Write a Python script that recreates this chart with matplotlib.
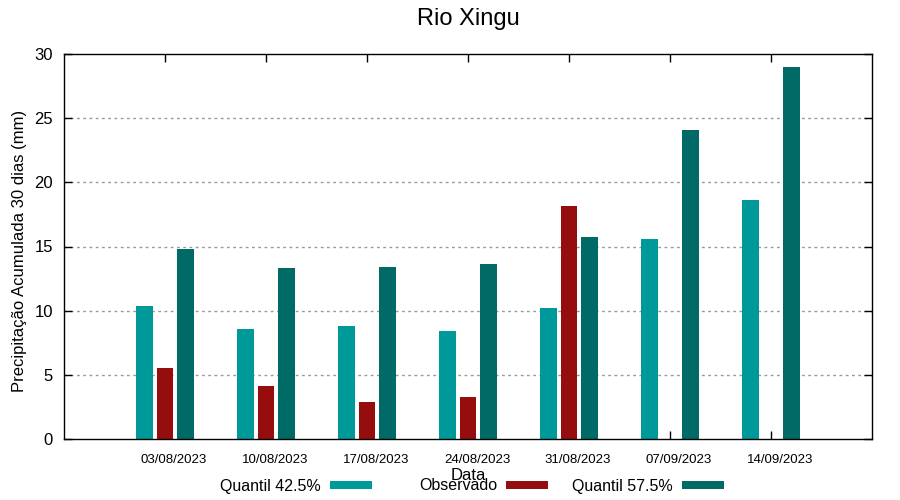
import matplotlib
matplotlib.use("Agg")
import matplotlib.pyplot as plt
import numpy as np

plt.rcParams['font.family'] = ['Liberation Sans', 'DejaVu Sans']

# dados
datas = ["03/08/2023", "10/08/2023", "17/08/2023", "24/08/2023",
         "31/08/2023", "07/09/2023", "14/09/2023"]
quantil_425 = [10.33, 8.55, 8.78, 8.39, 10.18, 15.62, 18.65]
observado = [5.52, 4.12, 2.87, 3.26, 18.18, np.nan, np.nan]
quantil_575 = [14.84, 13.29, 13.44, 13.60, 15.77, 24.09, 28.98]

cor_q425 = "#009999"
cor_obs = "#960d0d"
cor_q575 = "#006a66"

fig = plt.figure(figsize=(9, 5), dpi=100)
ax = fig.add_axes([64 / 900, 61 / 500, 808 / 900, 385 / 500])

x = np.arange(len(datas))
larg = 0.165
b1 = ax.bar(x - 0.205, quantil_425, larg, color=cor_q425, label="Quantil 42.5%", zorder=3)
b2 = ax.bar(x, observado, larg, color=cor_obs, label="Observado", zorder=3)
b3 = ax.bar(x + 0.205, quantil_575, larg, color=cor_q575, label="Quantil 57.5%", zorder=3)

ax.set_xlim(-1, 7)
ax.set_ylim(0, 30)
ax.set_yticks(np.arange(0, 31, 5))

# marcas no centro do grupo, rótulos um pouco à direita (como no gnuplot)
ax.set_xticks(x)
ax.set_xticklabels([])
ax.set_xticks(x + 0.09, minor=True)
ax.set_xticklabels(datas, minor=True, fontsize=9.5)

ax.tick_params(axis='y', direction='in', length=6, width=1, labelsize=12,
               pad=8, right=True)
ax.tick_params(axis='x', which='major', direction='in', length=6, width=1, top=True)
ax.tick_params(axis='x', which='minor', length=0, pad=11, top=False)

# grade pontilhada só nas linhas internas
for yv in range(5, 30, 5):
    ax.axhline(yv, color='#999999', lw=1, linestyle=(0, (2, 2.5)), zorder=1)

for s in ax.spines.values():
    s.set_linewidth(1)
    s.set_zorder(4)

ax.set_xlabel("Data", fontsize=12)
ax.xaxis.set_label_coords(0.5, -36 / 385)
ax.xaxis.label.set_va('center')

fig.text(20 / 900, 1 - 251 / 500, "Precipitação Acumulada 30 dias (mm)",
         rotation=90, ha='center', va='center', fontsize=12)
fig.text(468 / 900, 1 - 19 / 500, "Rio Xingu", ha='center', va='center', fontsize=17)

# legenda: cada item alinhado à direita numa coluna de largura fixa
for h, xr in zip([b1, b2, b3], [372, 548, 724]):
    fig.legend(handles=[h], loc='center right', bbox_to_anchor=(xr / 900, 1 - 486 / 500),
               frameon=False, markerfirst=False, fontsize=11.5,
               handlelength=2.6, handleheight=0.45, handletextpad=0.6,
               borderpad=0, borderaxespad=0)

fig.savefig("out.png", dpi=100)
